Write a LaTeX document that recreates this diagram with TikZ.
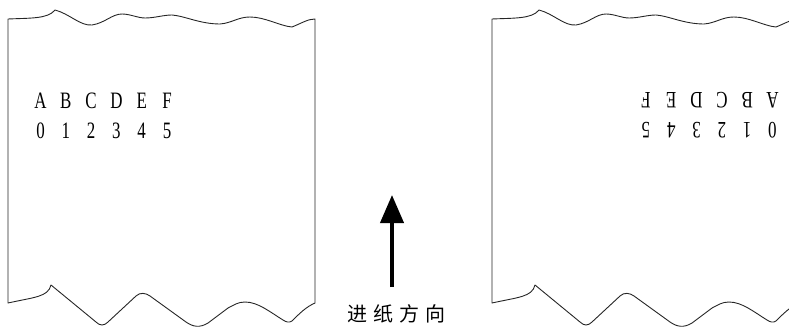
\documentclass[tikz,border=0pt]{standalone}
\usepackage{fontspec}
\setmainfont{Liberation Serif}
\newfontfamily\cjk{Noto Sans CJK SC}
\usetikzlibrary{arrows.meta}
\tikzset{
  paper/.style={line width=0.9pt, draw=black!85, line join=round},
  glyph/.style={inner sep=0pt, font=\fontsize{23.5}{23.5}\selectfont, xscale=0.72, text=black},
  feed/.style={line width=4pt, draw=black, -{Triangle[length=28pt,width=23pt]}},
  label/.style={inner sep=0pt, font=\cjk\fontsize{20}{20}\selectfont, text=black}
}
\newcommand{\paperoutline}{%
  (8,303) -- (8,19)
  .. controls (30,18) and (48,19) .. (55,10)
  .. controls (70,14) and (80,26) .. (92,25)
  .. controls (105,23) and (112,14) .. (122,14)
  .. controls (130,14) and (138,18) .. (145,18)
  .. controls (155,18) and (163,15) .. (172,15)
  .. controls (185,16) and (200,24) .. (220,24)
  .. controls (232,23) and (238,17) .. (250,17)
  .. controls (265,17) and (280,26) .. (292,27)
  .. controls (302,23) and (308,19) .. (315,19)
  -- (315,303)
  .. controls (306,307) and (300,313) .. (292,321)
  .. controls (289,323) and (286,322) .. (283,320)
  .. controls (270,312) and (258,302) .. (245,302)
  .. controls (238,302) and (234,305) .. (228,308)
  -- (208,323)
  .. controls (200,328) and (193,327) .. (186,322)
  -- (150,296)
  .. controls (146,293) and (140,292) .. (136,296)
  -- (108,322)
  .. controls (104,326) and (100,326) .. (96,322)
  -- (51,285)
  .. controls (48,297) and (35,297) .. (8,303) -- cycle}
\begin{document}
\begin{tikzpicture}[x=1pt,y=-1pt]
\clip (0,0) rectangle (789,329);
\useasboundingbox (0,0) rectangle (789,329);
% left sheet
\draw[paper] \paperoutline;
% right sheet
\begin{scope}[xshift=484pt]
\draw[paper] \paperoutline;
\end{scope}
% left text
\foreach \c [count=\i] in {A,B,C,D,E,F}
  \node[glyph] (la\i) at ({40.5+25.3*(\i-1)},100.5) {\c};
\foreach \c [count=\i] in {0,1,2,3,4,5}
  \node[glyph] (ld\i) at ({40.5+25.3*(\i-1)},130.5) {\c};
% right text (rotated)
\foreach \c [count=\i] in {A,B,C,D,E,F}
  \node[glyph, rotate=180] (ra\i) at ({772.5-25.3*(\i-1)},100.5) {\c};
\foreach \c [count=\i] in {0,1,2,3,4,5}
  \node[glyph, rotate=180] (rd\i) at ({772.5-25.3*(\i-1)},130.5) {\c};
% arrow
\coordinate (abot) at (392,287);
\coordinate (atop) at (392,195);
\draw[feed] (abot) -- (atop);
\node[label] (feedlabel) at (396.5,314) {进\hspace{6pt}纸\hspace{6pt}方\hspace{6pt}向};
\end{tikzpicture}
\end{document}
